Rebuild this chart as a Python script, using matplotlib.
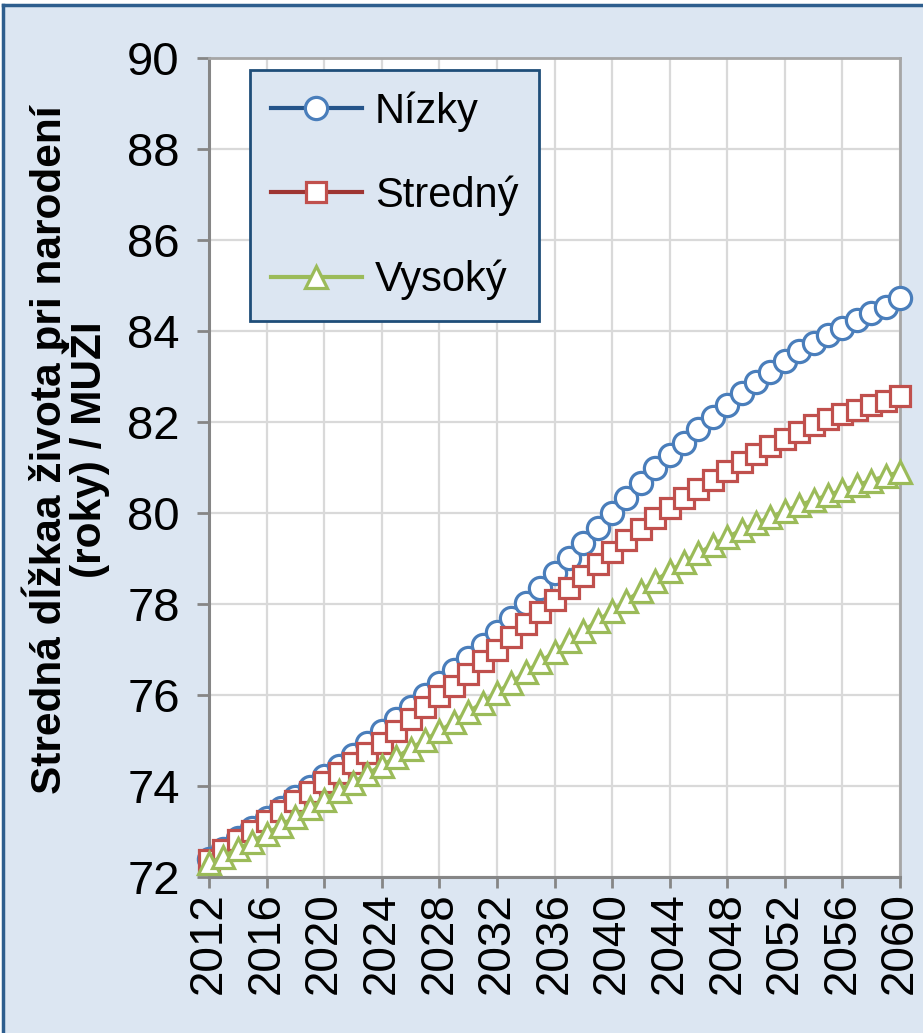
import numpy as np
import matplotlib
matplotlib.use("Agg")
import matplotlib.pyplot as plt
from matplotlib.lines import Line2D
from matplotlib.patches import Rectangle

plt.rcParams['font.family'] = ['Liberation Sans', 'DejaVu Sans']

# data (life expectancy at birth, men)
years = np.arange(2012, 2061)
nizky = [72.40, 72.62, 72.85, 73.07, 73.30, 73.52, 73.75, 73.98, 74.21, 74.45,
         74.69, 74.94, 75.20, 75.47, 75.74, 76.01, 76.27, 76.55, 76.81, 77.10,
         77.38, 77.69, 78.02, 78.35, 78.68, 79.01, 79.34, 79.67, 80.00, 80.34,
         80.67, 80.99, 81.27, 81.54, 81.85, 82.11, 82.37, 82.63, 82.88, 83.10,
         83.33, 83.55, 83.74, 83.91, 84.06, 84.24, 84.39, 84.53, 84.72]
stredny = [72.38, 72.60, 72.82, 73.02, 73.22, 73.45, 73.67, 73.87, 74.08, 74.28,
           74.50, 74.72, 74.95, 75.20, 75.47, 75.74, 75.97, 76.20, 76.47, 76.74,
           77.00, 77.27, 77.55, 77.82, 78.09, 78.36, 78.62, 78.88, 79.14, 79.40,
           79.65, 79.88, 80.10, 80.32, 80.52, 80.72, 80.92, 81.11, 81.30, 81.47,
           81.63, 81.78, 81.93, 82.06, 82.17, 82.27, 82.37, 82.47, 82.58]
vysoky = [72.30, 72.45, 72.61, 72.78, 72.95, 73.13, 73.32, 73.51, 73.70, 73.88,
          74.07, 74.26, 74.45, 74.63, 74.82, 75.01, 75.20, 75.41, 75.62, 75.83,
          76.05, 76.27, 76.50, 76.72, 76.95, 77.18, 77.40, 77.63, 77.85, 78.07,
          78.29, 78.51, 78.72, 78.92, 79.11, 79.30, 79.47, 79.62, 79.77, 79.91,
          80.04, 80.17, 80.28, 80.39, 80.50, 80.61, 80.71, 80.81, 80.90]
series_labels = ['Nízky', 'Stredný', 'Vysoký']
y_ticks = np.arange(72, 91, 2)
x_ticks = np.arange(2012, 2061, 4)
ylabel_text = 'Stredná dĺžkaa života pri narodení\n(roky) / MUŽI'

W, H = 923, 1033
fig = plt.figure(figsize=(W / 100, H / 100), dpi=100, facecolor='white')

# light blue chart background with dark blue frame on left/top
fig.patches.append(Rectangle((3 / W, 0), 1, (H - 5) / H, transform=fig.transFigure,
                             facecolor='#dce6f2', edgecolor='none', zorder=-10))
fig.add_artist(Line2D([3 / W, 3 / W], [0, (H - 5) / H], transform=fig.transFigure,
                      color='#2e5e8e', lw=2.5))
fig.add_artist(Line2D([3 / W, 1], [(H - 5) / H, (H - 5) / H], transform=fig.transFigure,
                      color='#2e5e8e', lw=2.5))

ax = fig.add_axes([209 / W, (H - 877) / H, 691 / W, 819 / H])
ax.set_facecolor('white')

styles = [
    (nizky, '#24548a', '#4a7ebb', 'o', 16),
    (stredny, '#9e3533', '#c0504d', 's', 14),
    (vysoky, '#9bbb59', '#9bbb59', '^', 16),
]
for i, (vals, lc, mc, mk, ms) in enumerate(styles):
    ax.plot(years, vals, color=lc, lw=3, marker=mk, ms=ms, mfc='white',
            mec=mc, mew=2.3, clip_on=False, zorder=3 + i, label=series_labels[i])

ax.set_xlim(2012, 2060)
ax.set_ylim(72, 90)
ax.set_xticks(x_ticks)
ax.set_yticks(y_ticks)
ax.set_xticklabels([str(x) for x in x_ticks], rotation=90, fontsize=33)
ax.set_yticklabels([str(y) for y in y_ticks], fontsize=34)
ax.tick_params(axis='x', direction='out', length=8, width=2, color='#868686', pad=3)
ax.tick_params(axis='y', direction='out', length=9, width=2, color='#868686', pad=12)

ax.grid(color='#d9d9d9', lw=1.6)
ax.set_axisbelow(True)

for side in ['left', 'bottom']:
    ax.spines[side].set_color('#868686')
    ax.spines[side].set_linewidth(2.2)
for side in ['top', 'right']:
    ax.spines[side].set_color('#a6a6a6')
    ax.spines[side].set_linewidth(2)

fig.text(66 / W, (H - 450) / H, ylabel_text, rotation=90, ha='center', va='center',
         multialignment='center', fontsize=30.5, fontweight='bold', linespacing=0.8)

leg = ax.legend(loc='upper left', bbox_to_anchor=(0.059, 0.985), fontsize=30,
                frameon=True, fancybox=False, edgecolor='#1f4e79', facecolor='#dce6f2',
                framealpha=1, handlelength=2.2, handletextpad=0.3, labelspacing=1.05,
                borderpad=0.5, borderaxespad=0)
leg.get_frame().set_linewidth(2)

fig.savefig('out.png', dpi=100, facecolor=fig.get_facecolor())
